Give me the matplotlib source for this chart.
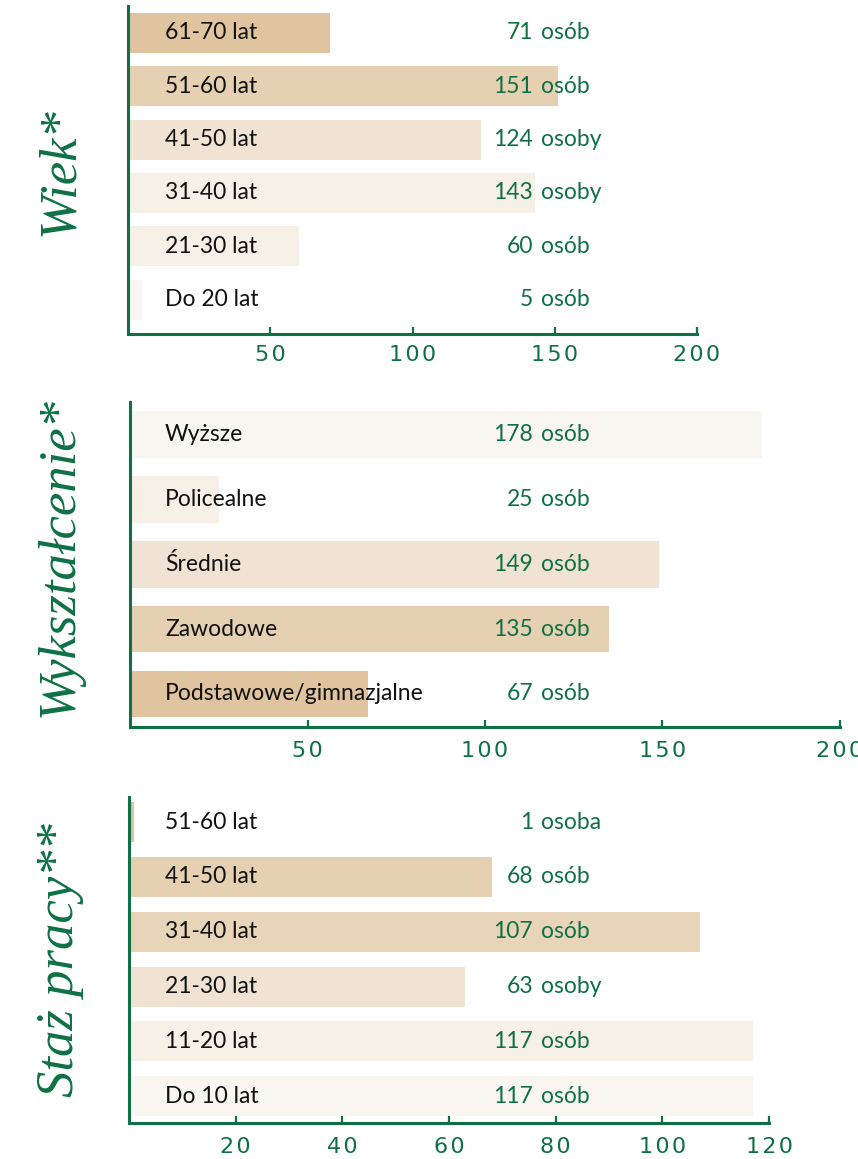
import matplotlib
matplotlib.use('Agg')
import matplotlib.pyplot as plt
from matplotlib.transforms import blended_transform_factory

# ---------------------------------------------------------------
# dane
wiek_kat = ['61-70 lat', '51-60 lat', '41-50 lat', '31-40 lat', '21-30 lat', 'Do 20 lat']
wiek_val = [71, 151, 124, 143, 60, 5]
wiek_txt = ['osób', 'osób', 'osoby', 'osoby', 'osób', 'osób']

wyk_kat = ['Wyższe', 'Policealne', 'Średnie', 'Zawodowe', 'Podstawowe/gimnazjalne']
wyk_val = [178, 25, 149, 135, 67]
wyk_txt = ['osób', 'osób', 'osób', 'osób', 'osób']

staz_kat = ['51-60 lat', '41-50 lat', '31-40 lat', '21-30 lat', '11-20 lat', 'Do 10 lat']
staz_val = [1, 68, 107, 63, 117, 117]
staz_txt = ['osoba', 'osób', 'osób', 'osoby', 'osób', 'osób']

wiek_ticks = [50, 100, 150, 200]
wyk_ticks = [50, 100, 150, 200]
staz_ticks = [20, 40, 60, 80, 100, 120]

# ---------------------------------------------------------------
# styl
GREEN = '#0F7045'
c1, c2, c2b, c3, c4, c5 = '#E0C49F', '#E6D0B2', '#E8D4B8', '#F0E3D3', '#F7F0E6', '#F9F6F1'
wiek_col = [c1, c2, c3, c4, c4, c5]
wyk_col = [c5, c4, c3, c2, c1]
staz_col = [c1, c2, c2b, c3, c4, c5]

W, H = 858, 1159
fig = plt.figure(figsize=(W / 100, H / 100), dpi=100)


def px_rect(l, t, r, b):
    return [l / W, 1 - b / H, (r - l) / W, (b - t) / H]


def panel(rect, kat, val, txt, col, ticks, xmax, ylim, bh, pad, title, ty):
    ax = fig.add_axes(px_rect(*rect))
    y = list(range(len(kat)))
    ax.barh(y, val, height=bh, color=col, zorder=1)
    ax.set_xlim(0, xmax)
    ax.set_ylim(*ylim)
    for s in ['top', 'right']:
        ax.spines[s].set_visible(False)
    for s in ['left', 'bottom']:
        ax.spines[s].set_color(GREEN)
        ax.spines[s].set_linewidth(2.2)
        ax.spines[s].set_zorder(3)
    ax.set_yticks([])
    ax.set_xticks(ticks)
    ax.set_xticklabels(['\u200a'.join(str(t)) for t in ticks])
    ax.tick_params(axis='x', direction='in', length=5, width=1.6, color=GREEN,
                   labelcolor=GREEN, labelsize=16, pad=pad)
    for lab in ax.get_xticklabels():
        lab.set_fontfamily('DejaVu Sans')
    ax.patch.set_alpha(0)
    tr = blended_transform_factory(fig.transFigure, ax.transData)
    for i in y:
        ax.text(165 / W, i, kat[i], transform=tr, ha='left', va='center',
                fontsize=16.5, family='Lato', color='#111111', zorder=4)
        ax.text(533 / W, i, str(val[i]), transform=tr, ha='right', va='center',
                fontsize=16.5, family='Lato', color=GREEN, zorder=4)
        ax.text(541 / W, i, txt[i], transform=tr, ha='left', va='center',
                fontsize=16.5, family='Lato', color=GREEN, zorder=4)
    fig.text(60 / W, 1 - ty / H, title, rotation=90, ha='center', va='center',
             fontsize=38, family='Liberation Serif', style='italic', color=GREEN)
    return ax


panel((128, 6, 697, 334), wiek_kat, wiek_val, wiek_txt, wiek_col, wiek_ticks, 200,
      (5.64, -0.5), 0.75, 8, 'Wiek*', 172)
panel((130, 402, 840, 727), wyk_kat, wyk_val, wyk_txt, wyk_col, wyk_ticks, 200,
      (4.51, -0.5), 0.72, 10, 'Wykształcenie*', 557)
panel((129, 797, 769, 1123), staz_kat, staz_val, staz_txt, staz_col, staz_ticks, 120,
      (5.49, -0.46), 0.73, 10, 'Staż pracy**', 960)

plt.savefig('out.png', dpi=100)
